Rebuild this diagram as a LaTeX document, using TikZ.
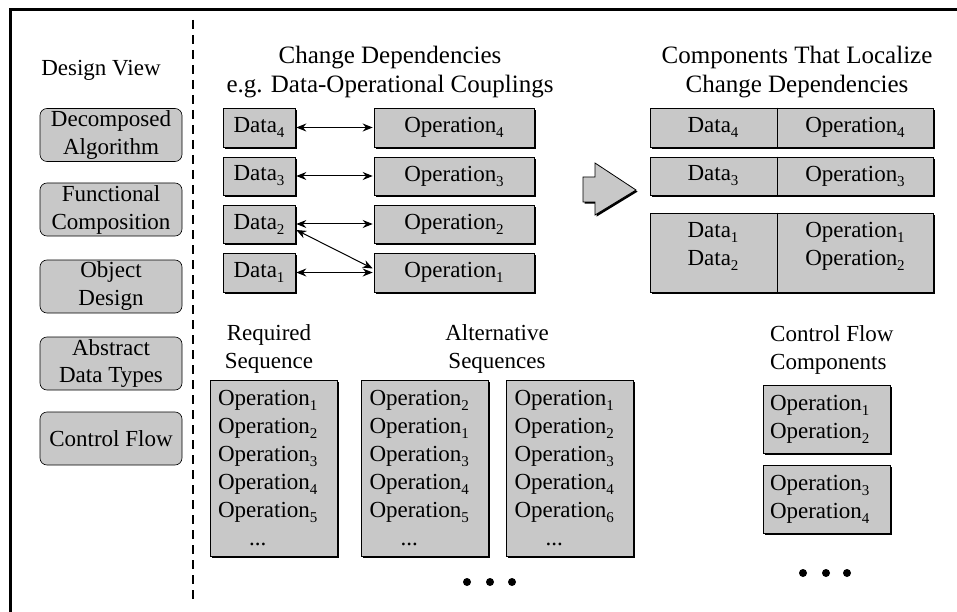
\documentclass[tikz,border=0pt]{standalone}
\usepackage{fontspec}
\setmainfont{Liberation Serif}
\usetikzlibrary{shadows,arrows.meta,calc}
\definecolor{boxgray}{RGB}{200,200,200}
\newcommand{\ssub}[1]{\raisebox{-5pt}{\fontsize{15}{15}\selectfont #1}}
\begin{document}
\begin{tikzpicture}[x=1pt,y=-1pt,
  every node/.style={font=\fontsize{23}{28}\selectfont, inner sep=0pt},
  gbox/.style={draw=black, line width=0.6pt, fill=boxgray, drop shadow={shadow xshift=1.6pt, shadow yshift=-1.6pt, opacity=1, fill=black}},
  viewbox/.style={draw=black, line width=0.6pt, fill=boxgray, rounded corners=7pt, minimum width=142pt, minimum height=53pt, align=center},
  title/.style={align=center, font=\fontsize{25}{29}\selectfont},
  dep/.style={{Stealth[length=10pt,width=8pt]}-{Stealth[length=10pt,width=8pt]}, line width=1pt},
  seqbox/.style={gbox, align=left, inner xsep=8pt, text width=111pt, minimum height=176pt},
  cfbox/.style={gbox, align=left, inner xsep=7pt, text width=113pt, minimum height=68pt},
  bigdot/.style={circle, fill=black, minimum size=8pt}
]
\useasboundingbox (0,0) rectangle (957,612);
% frame
\coordinate (ftl) at (10,10);
\coordinate (ftr) at (957,10);
\coordinate (fbl) at (10,612);
\draw[line width=3pt] (fbl) -- (ftl) -- (ftr);
\coordinate (dtop) at (193,20);
\coordinate (dbot) at (193,603);
\draw[line width=2pt, dash pattern=on 9pt off 6pt] (dtop) -- (dbot);

% design views
\node (dvt) at (101,70) {Design View};
\node[viewbox] (v1) at (111,135) {Decomposed\\Algorithm};
\node[viewbox] (v2) at (111,209.5) {Functional\\Composition};
\node[viewbox] (v3) at (111,286.5) {Object\\Design};
\node[viewbox] (v4) at (111,363.5) {Abstract\\Data Types};
\node[viewbox] (v5) at (111,438.5) {Control Flow};

% change dependencies
\node[title] (t1) at (390,72) {Change Dependencies\\e.g. Data-Operational Couplings};
\node[gbox, minimum width=72pt, minimum height=39pt] (d4) at (259,127.5) {Data\ssub{4}};
\node[gbox, minimum width=72pt, minimum height=38pt] (d3) at (259,176) {Data\ssub{3}};
\node[gbox, minimum width=72pt, minimum height=38pt] (d2) at (259,224) {Data\ssub{2}};
\node[gbox, minimum width=72pt, minimum height=39pt] (d1) at (259,272.5) {Data\ssub{1}};
\node[gbox, minimum width=160pt, minimum height=39pt] (o4) at (454,127.5) {Operation\ssub{4}};
\node[gbox, minimum width=160pt, minimum height=38pt] (o3) at (454,176) {Operation\ssub{3}};
\node[gbox, minimum width=160pt, minimum height=38pt] (o2) at (454,224) {Operation\ssub{2}};
\node[gbox, minimum width=160pt, minimum height=39pt] (o1) at (454,272.5) {Operation\ssub{1}};
\draw[dep] ([xshift=1pt]d4.east) -- ([xshift=-1pt]o4.west);
\draw[dep] ([xshift=1pt]d3.east) -- ([xshift=-1pt]o3.west);
\draw[dep] ([xshift=1pt]d2.east) -- ([xshift=-1pt]o2.west);
\draw[dep] ([xshift=1pt]d1.east) -- ([xshift=-1pt]o1.west);
\draw[dep] ([xshift=1pt,yshift=-6pt]d2.east) -- ([xshift=-1pt,yshift=4pt]o1.west);

% big arrow
\draw[fill=boxgray, line width=0.8pt, drop shadow={shadow xshift=1.6pt, shadow yshift=-1.6pt, opacity=1, fill=black}]
  (583,177) -- (595,177) -- (595,163) -- (636,190) -- (595,215) -- (595,202) -- (583,202) -- cycle;

% components
\node[title] (t2) at (797,72) {Components That Localize\\Change Dependencies};
\coordinate (dv) at (777,0);
\node[gbox, minimum width=283pt, minimum height=39pt] (r4) at (791.5,127.5) {};
\node[gbox, minimum width=283pt, minimum height=38pt] (r3) at (791.5,176) {};
\node[gbox, minimum width=283pt, minimum height=79pt] (r12) at (791.5,252.5) {};
\draw[line width=0.6pt] (r4.north -| dv) -- (r4.south -| dv);
\draw[line width=0.6pt] (r3.north -| dv) -- (r3.south -| dv);
\draw[line width=0.6pt] (r12.north -| dv) -- (r12.south -| dv);
\node (r4d) at (713,127.5) {Data\ssub{4}};
\node (r4o) at (855,127.5) {Operation\ssub{4}};
\node (r3d) at (713,176) {Data\ssub{3}};
\node (r3o) at (855,176) {Operation\ssub{3}};
\node[align=center] (r12d) at (713,246) {Data\ssub{1}\\Data\ssub{2}};
\node[align=center] (r12o) at (855,246) {Operation\ssub{1}\\Operation\ssub{2}};

% sequences
\node[align=center] (rs) at (269,349) {Required\\Sequence};
\node[align=center] (as) at (497,349) {Alternative\\Sequences};
\node[seqbox] (s1) at (273.5,468.5) {Operation\ssub{1}\\Operation\ssub{2}\\Operation\ssub{3}\\Operation\ssub{4}\\Operation\ssub{5}\\\hspace*{31pt}...};
\node[seqbox] (s2) at (425,468) {Operation\ssub{2}\\Operation\ssub{1}\\Operation\ssub{3}\\Operation\ssub{4}\\Operation\ssub{5}\\\hspace*{31pt}...};
\node[seqbox] (s3) at (570,468) {Operation\ssub{1}\\Operation\ssub{2}\\Operation\ssub{3}\\Operation\ssub{4}\\Operation\ssub{6}\\\hspace*{31pt}...};
\node[bigdot] (sd1) at (467,582) {};
\node[bigdot] (sd2) at (490,582) {};
\node[bigdot] (sd3) at (512,582) {};

% control flow
\node[align=left, anchor=west] (cft) at (770,350) {Control Flow\\Components};
\node[cfbox] (c1) at (826.5,419) {Operation\ssub{1}\\Operation\ssub{2}};
\node[cfbox] (c2) at (826.5,499) {Operation\ssub{3}\\Operation\ssub{4}};
\node[bigdot] (cd1) at (803,573) {};
\node[bigdot] (cd2) at (826,573) {};
\node[bigdot] (cd3) at (847,573) {};
\end{tikzpicture}
\end{document}
